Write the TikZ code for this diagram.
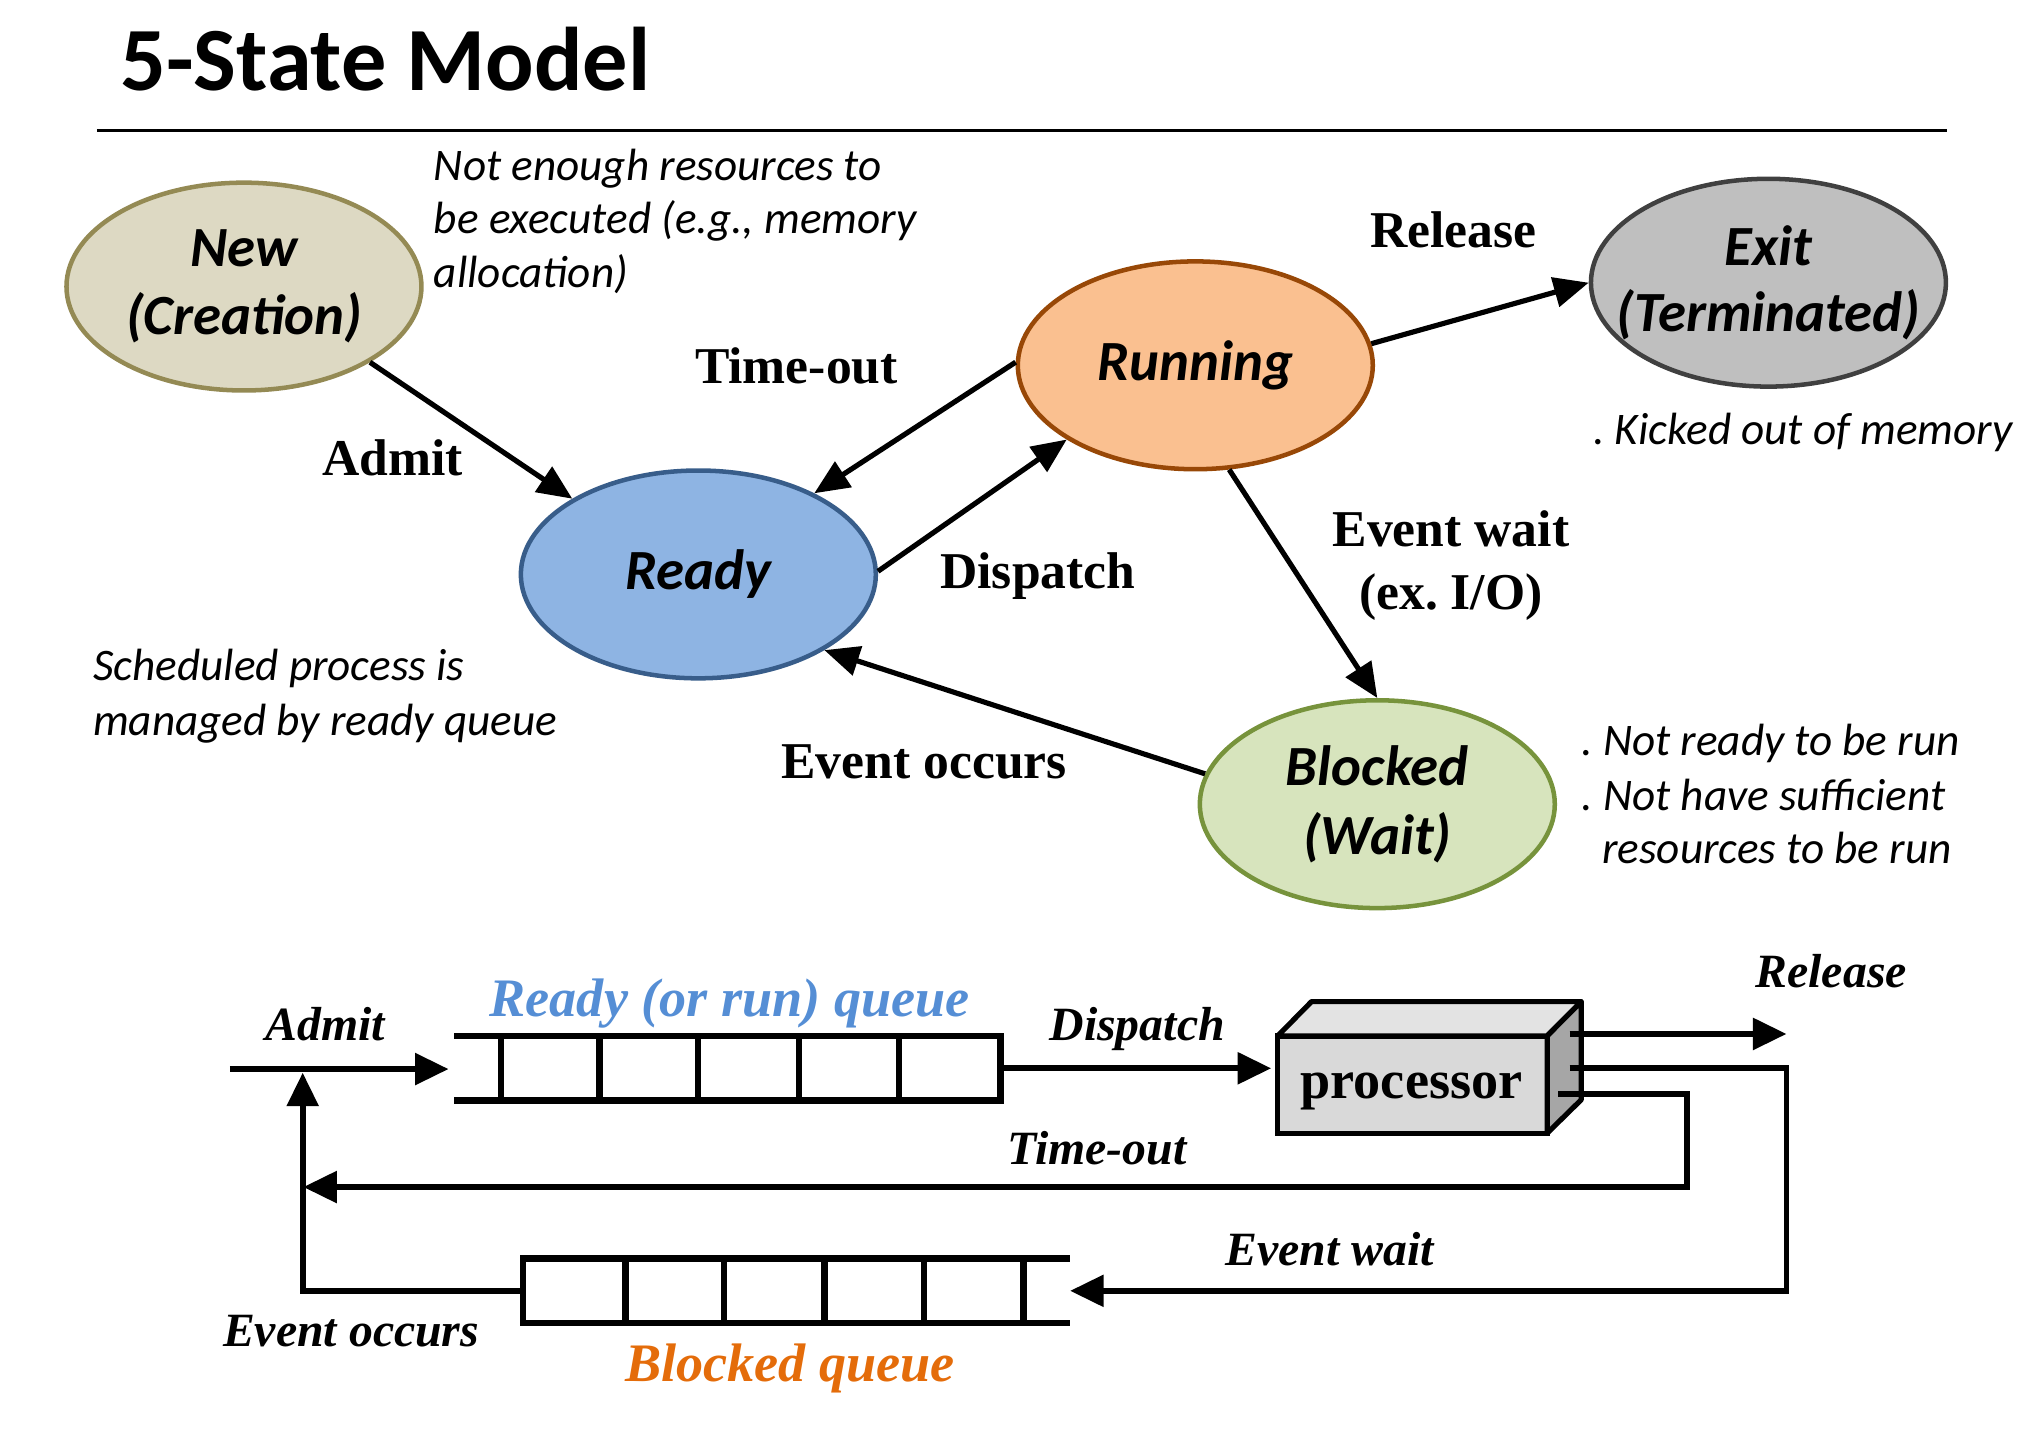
\documentclass[tikz,border=0pt]{standalone}
\usepackage{fontspec}
\setmainfont{Liberation Serif}
\newfontfamily\calibrifont{Carlito}
\usetikzlibrary{arrows.meta,shapes.geometric}
\definecolor{newfill}{HTML}{DDD9C3}
\definecolor{newdraw}{HTML}{948A54}
\definecolor{readyfill}{HTML}{8EB4E3}
\definecolor{readydraw}{HTML}{385D8A}
\definecolor{runfill}{HTML}{FAC090}
\definecolor{rundraw}{HTML}{984807}
\definecolor{exitfill}{HTML}{BFBFBF}
\definecolor{exitdraw}{HTML}{404040}
\definecolor{blkfill}{HTML}{D7E4BD}
\definecolor{blkdraw}{HTML}{77933C}
\definecolor{qblue}{HTML}{558ED5}
\definecolor{qorange}{HTML}{E46C0A}
\definecolor{procfront}{HTML}{D9D9D9}
\definecolor{proctop}{HTML}{E3E3E3}
\definecolor{procside}{HTML}{A6A6A6}
\begin{document}
\frenchspacing
\begin{tikzpicture}[x=1pt,y=-1pt,
  state/.style={ellipse, draw, line width=3.5pt, minimum width=275pt, minimum height=161pt,
    inner xsep=-30pt, inner ysep=0pt, align=center, font=\calibrifont\bfseries\itshape\fontsize{44}{53}\selectfont},
  conn/.style={line width=4pt, -{Triangle[length=27pt,width=23pt]}},
  lbl/.style={anchor=base, inner sep=0pt, font=\bfseries\fontsize{40}{48}\selectfont},
  note/.style={anchor=base west, inner sep=0pt, font=\calibrifont\itshape\fontsize{35}{42}\selectfont},
  blbl/.style={anchor=base, inner sep=0pt, font=\bfseries\itshape\fontsize{37}{44}\selectfont},
  qlbl/.style={anchor=base, inner sep=0pt, font=\bfseries\itshape\fontsize{42}{50}\selectfont},
  qline/.style={line width=5pt},
  flowarrow/.style={line width=4.5pt, -{Triangle[length=26pt,width=24pt]}},
  queue/.style={draw, line width=5pt, minimum height=50pt, inner sep=0pt, outer sep=0pt}
]
\useasboundingbox (0,0) rectangle (1568,1114);
% title
\node[anchor=base west, inner sep=0pt, font=\calibrifont\bfseries\fontsize{70}{84}\selectfont] (title) at (93,70) {5-State Model};
\coordinate (ruleL) at (75,101);
\coordinate (ruleR) at (1508,101);
\draw[line width=2.5pt] (ruleL) -- (ruleR);

% states
\node[state, fill=newfill, draw=newdraw] (new) at (189,222) {New\\(Creation)};
\node[state, fill=readyfill, draw=readydraw] (ready) at (541,445) {Ready};
\node[state, fill=runfill, draw=rundraw] (run) at (926,283) {Running};
\node[state, fill=exitfill, draw=exitdraw] (exit) at (1370,219) {Exit\\[-2pt](Terminated)};
\node[state, fill=blkfill, draw=blkdraw] (blk) at (1067,623) {Blocked\\(Wait)};

% transitions
\draw[conn] (new.-31) -- (ready.149);
\draw[conn] (run.179) -- (ready.35);
\draw[conn] (ready.1) -- (run.210);
\draw[conn] (run.7) -- (exit.180);
\draw[conn] (run.-72) -- (blk.90);
\draw[conn] (blk.170) -- (ready.-31);

% labels
\node[lbl] (lAdmit) at (304,368) {Admit};
\node[lbl] (lTimeout) at (617,297) {Time-out};
\node[lbl] (lDispatch) at (804,456) {Dispatch};
\node[lbl] (lRelease) at (1126,192) {Release};
\node[lbl] (lEventwait) at (1124,423.5) {Event wait};
\node[lbl] (lExIO) at (1124,472.5) {(ex. I/O)};
\node[lbl] (lEventocc) at (716,603) {Event occurs};

% notes
\node[note] (n1a) at (336,139.5) {Not enough resources to};
\node[note] (n1b) at (336,181) {be executed (e.g., memory};
\node[note] (n1c) at (336,223) {allocation)};
\node[note] (n2) at (1234,344.5) {. Kicked out of memory};
\node[note] (n3a) at (72,527) {Scheduled process is};
\node[note] (n3b) at (72,569.5) {managed by ready queue};
\node[note] (n4a) at (1225,585) {. Not ready to be run};
\node[note] (n4b) at (1225,627.5) {. Not have sufficient};
\node[note] (n4c) at (1241,669) {resources to be run};

% ---------------- bottom diagram ----------------
% ready queue
\node[queue, minimum width=387pt] (rq) at (581.5,827.6) {};
\foreach \x in {464.5,540.7,618.8,696.4} \draw[qline] (\x,802.6) -- (\x,852.6);
\coordinate (rqTL) at (352,802.6);
\coordinate (rqBL) at (352,852.6);
\draw[qline] (rqTL) -- (rq.north west);
\draw[qline] (rqBL) -- (rq.south west);

% blocked queue
\node[queue, minimum width=388pt] (bq) at (599,1000) {};
\foreach \x in {484.4,561,638.7,715.7} \draw[qline] (\x,975) -- (\x,1025);
\coordinate (bqTR) at (829,975);
\coordinate (bqBR) at (829,1025);
\draw[qline] (bq.north east) -- (bqTR);
\draw[qline] (bq.south east) -- (bqBR);

% processor
\node[draw, line width=4pt, fill=procfront, minimum width=208.8pt, minimum height=75.3pt, inner sep=0pt, outer sep=0pt] (proc) at (1094.2,840.2) {};
\draw[line width=4pt, fill=proctop, line join=round] (proc.north west) -- ++(26.2,-26.6) -- ++(209,0) -- (proc.north east) -- cycle;
\draw[line width=4pt, fill=procside, line join=round] (proc.north east) -- ++(26.4,-26.6) -- ++(0,76) -- (proc.south east) -- cycle;
\node[anchor=base, inner sep=0pt, font=\bfseries\fontsize{42}{50}\selectfont] (proclbl) at (1093.5,850.8) {processor};

% flows
\coordinate (admitIn) at (178,828.2);
\coordinate (rqIn) at (347.5,828.2);
\draw[flowarrow] (admitIn) -- (rqIn);
\draw[flowarrow] (rq.east) -- ([xshift=-5pt]proc.west |- rq.east);
\coordinate (relStart) at (1216,801);
\coordinate (relEnd) at (1384,801);
\draw[flowarrow] (relStart) -- (relEnd);
\coordinate (ewStart) at (1216,827.5);
\coordinate (ewCorner) at (1384,1000);
\draw[flowarrow] (ewStart) -| (ewCorner) -- (bqTR |- bq.east);
\coordinate (toStart) at (1207,847.5);
\coordinate (toCorner) at (1307,919.6);
\coordinate (toEnd) at (235,919.6);
\draw[flowarrow] (toStart) -| (toCorner) -- (toEnd);
\coordinate (eoCorner) at (234.5,1000);
\coordinate (eoEnd) at (234.5,831);
\draw[flowarrow] (bq.west) -- (eoCorner) -- (eoEnd);

% bottom labels
\node[blbl] (bAdmit) at (252,806) {Admit};
\node[qlbl, text=qblue] (bReadyQ) at (565.4,787.6) {Ready (or run) queue};
\node[blbl] (bDispatch) at (881,806) {Dispatch};
\node[blbl] (bRelease) at (1418.6,764.8) {Release};
\node[blbl] (bTimeout) at (850,902.5) {Time-out};
\node[blbl] (bEventwait) at (1030,980) {Event wait};
\node[blbl] (bEventocc) at (272,1043) {Event occurs};
\node[qlbl, text=qorange] (bBlockedQ) at (612,1070) {Blocked queue};
\end{tikzpicture}
\end{document}
